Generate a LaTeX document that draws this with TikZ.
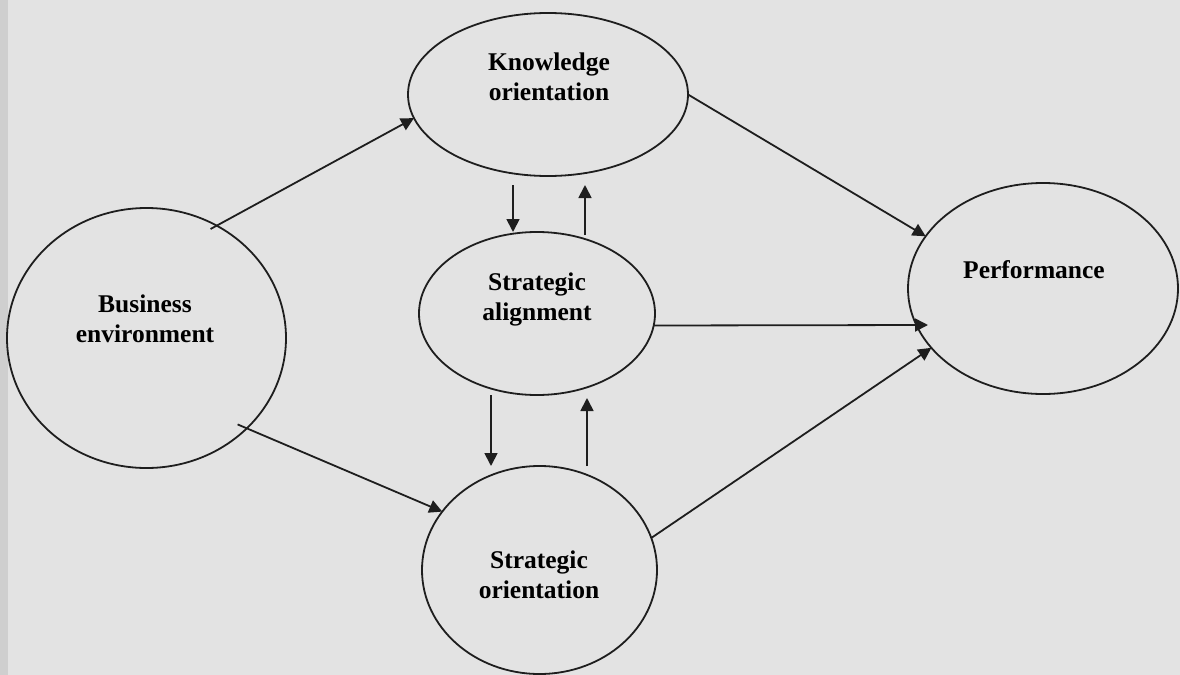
\documentclass[tikz,border=0pt]{standalone}
\usepackage{fontspec}
\setmainfont{Liberation Serif}
\usetikzlibrary{arrows.meta,shapes.geometric}
\definecolor{bg}{HTML}{E3E3E3}
\definecolor{strip}{HTML}{CFCFCF}
\definecolor{ink}{HTML}{1E1E1E}
\begin{document}
\begin{tikzpicture}[x=0.5pt,y=-0.5pt,
  ell/.style={draw=ink, ellipse, line width=0.9pt, inner sep=0pt, outer sep=0pt},
  lbl/.style={anchor=north, inner sep=0pt, align=center, text=black, font=\bfseries\fontsize{12.75pt}{15pt}\selectfont},
  arr/.style={draw=ink, line width=0.9pt, -{Triangle[length=6.5pt,width=6.5pt]}}]
\fill[bg] (0,0) rectangle (1180,675);
\fill[strip] (0,0) rectangle (8,675);
\useasboundingbox (0,0) rectangle (1180,675);
% ellipses
\node[ell, minimum width=139.5pt, minimum height=130pt] (bus) at (146.5,338) {};
\node[ell, minimum width=140pt, minimum height=81.5pt] (ko) at (548,94.5) {};
\node[ell, minimum width=118pt, minimum height=81.5pt] (sa) at (537,313.5) {};
\node[ell, minimum width=117.5pt, minimum height=104pt] (so) at (539.5,570) {};
\node[ell, minimum width=135pt, minimum height=105.5pt] (perf) at (1043,288.5) {};
% labels
\node[lbl] (busT) at (145,294) {Business\\environment};
\node[lbl] (koT) at (549,52) {Knowledge\\orientation};
\node[lbl] (saT) at (537,272) {Strategic\\alignment};
\node[lbl] (soT) at (539,550) {Strategic\\orientation};
\node[lbl] (perfT) at (1034,260) {Performance};
% connectors
\draw[arr, shorten <=-3.5pt] (bus.58) -- (ko.190);
\draw[arr, shorten <=-5pt] (bus.-42) -- (so.149);
\draw[arr] (ko.0) -- (perf.156);
\draw[arr] ([xshift=-0.5pt,yshift=-6pt]sa.east) -- ([xshift=10pt,yshift=-18.25pt]perf.west);
\draw[arr] (so.16) -- (perf.208);
\draw[arr] ([xshift=-17.5pt,yshift=-4.5pt]ko.south) -- ([xshift=-12pt]sa.north);
\draw[arr] ([xshift=24pt,yshift=-1.5pt]sa.north) -- ([xshift=18.5pt,yshift=-4.5pt]ko.south);
\draw[arr] ([xshift=-23pt]sa.south) -- ([xshift=-24.25pt]so.north);
\draw[arr] ([xshift=23.75pt]so.north) -- ([xshift=25pt,yshift=-1.5pt]sa.south);
\end{tikzpicture}
\end{document}
